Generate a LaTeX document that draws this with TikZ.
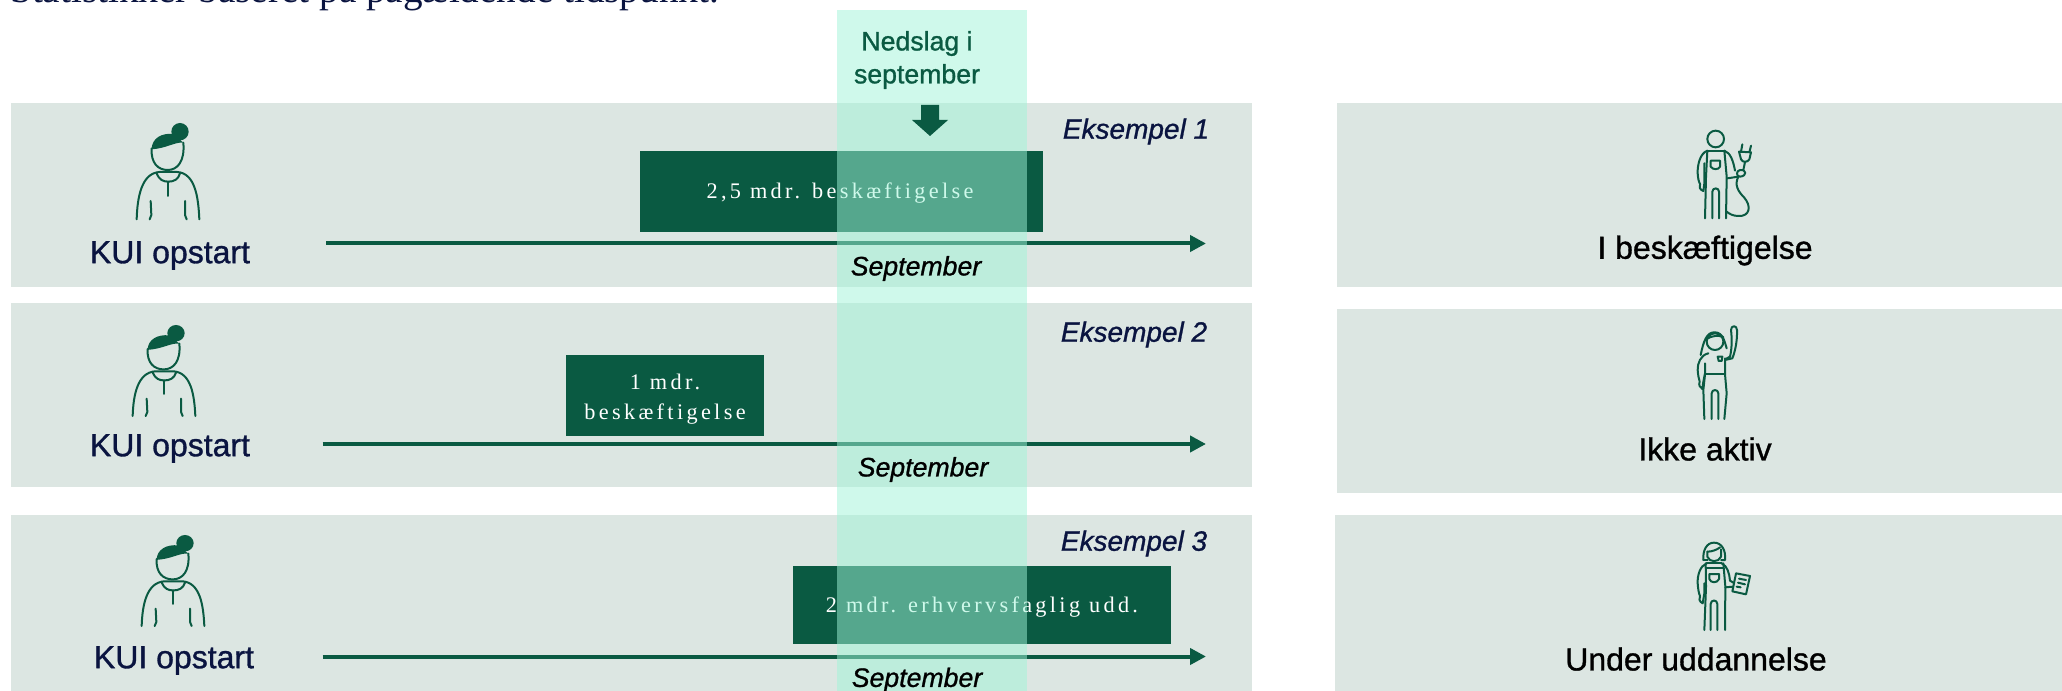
\documentclass[tikz,border=0pt]{standalone}
\usepackage{fontspec}
\setmainfont[FakeBold=1]{Liberation Sans}
\newfontfamily\barfont[LetterSpace=15]{Liberation Serif}
\newfontfamily\topfont{Liberation Serif}
\usetikzlibrary{arrows.meta}
\definecolor{panelcol}{HTML}{DCE6E2}
\definecolor{darkgreen}{HTML}{0A5A42}
\definecolor{bandcol}{RGB}{160,244,216}
\definecolor{navy}{HTML}{0A1440}
\tikzset{
  panel/.style={fill=panelcol,draw=none},
  barbox/.style={fill=darkgreen,inner sep=0pt},
  bartext/.style={text=white,inner sep=0pt,align=center,font=\barfont\fontsize{16.7}{22.5}\selectfont},
  timeline/.style={draw=darkgreen,line width=3pt,-{Triangle[length=12pt,width=12pt]}},
  kui/.style={text=navy,font=\fontsize{24}{28}\selectfont,inner sep=0pt},
  eks/.style={text=navy,font=\itshape\fontsize{21}{25}\selectfont,inner sep=0pt},
  sep/.style={text=black,font=\itshape\fontsize{20}{24}\selectfont,inner sep=0pt},
  outcome/.style={text=black,font=\fontsize{24}{28}\selectfont,inner sep=0pt},
  icon/.style={draw=darkgreen,line width=1.5pt,line cap=round,line join=round,fill=none},
  zoomed/.style={x=0.25pt,y=-0.25pt}
}
\newcommand{\personicon}[3]{%
  \begin{scope}[shift={(#1,#2)},zoomed,yscale=#3]
    \fill[darkgreen] (240,65) circle (26);
    \fill[darkgreen] (155,118) .. controls (155,85) and (185,68) .. (220,72) -- (250,98) .. controls (225,95) and (200,115) .. (155,118) -- cycle;
    \draw[icon] (155,115) .. controls (152,160) and (175,180) .. (203,180) .. controls (232,180) and (255,155) .. (250,98);
    \draw[icon] (110,328) .. controls (112,260) and (125,190) .. (178,186) -- (232,186) .. controls (285,190) and (295,260) .. (298,328);
    \draw[icon] (170,190) .. controls (178,210) and (190,215) .. (205,215) .. controls (222,215) and (235,208) .. (240,190);
    \draw[icon] (205,215) -- (205,258);
    \draw[icon] (152,273) -- (154,315) -- (149,328);
    \draw[icon] (255,273) -- (255,315) -- (260,328);
  \end{scope}}
\begin{document}
\begin{tikzpicture}[x=0.75pt,y=-0.75pt]
\useasboundingbox (0,0) rectangle (2062,691);
\clip (0,0) rectangle (2062,691);
\fill[white] (0,0) rectangle (2062,691);
\node[anchor=base west,inner sep=0pt,text=navy,font=\topfont\fontsize{29.4}{33}\selectfont] (toptext) at (10,3) {Statistikker baseret på pågældende tidspunkt.};
% panels
\fill[panel] (11,103) rectangle (1252,287);
\fill[panel] (11,303) rectangle (1252,487);
\fill[panel] (11,515) rectangle (1252,691);
\fill[panel] (1337,103) rectangle (2062,287);
\fill[panel] (1337,309) rectangle (2062,493);
\fill[panel] (1335,515) rectangle (2062,691);
% bars
\node[barbox,minimum width=302.25pt,minimum height=60.5pt] (bar1) at (841.5,191.5) {};
\node[barbox,minimum width=148.5pt,minimum height=60.5pt] (bar2) at (665,395.5) {};
\node[barbox,minimum width=283.5pt,minimum height=58.5pt] (bar3) at (982,605) {};
\node[bartext] (bar1t) at (840,193.5) {2,5 mdr. beskæftigelse};
\node[bartext] (bar2t) at (665,399) {1 mdr.\\beskæftigelse};
\node[bartext] (bar3t) at (982,607) {2 mdr. erhvervsfaglig udd.};
% timelines
\coordinate (a1s) at (326,243.5); \coordinate (a1e) at (1206,243.5);
\coordinate (a2s) at (322.5,444); \coordinate (a2e) at (1206,444);
\coordinate (a3s) at (322.5,656.5); \coordinate (a3e) at (1206,656.5);
\draw[timeline] (a1s) -- (a1e);
\draw[timeline] (a2s) -- (a2e);
\draw[timeline] (a3s) -- (a3e);
% band
\fill[bandcol,opacity=0.5] (837,10) rectangle (1027,691);
% band header and arrow
\node[text=darkgreen,align=center,inner sep=0pt,font=\fontsize{20}{24.7}\selectfont] (ned) at (917,60) {Nedslag i\\september};
\fill[darkgreen] (921,105) -- (939,105) -- (939,120) -- (948,120) -- (930,136) -- (912,120) -- (921,120) -- cycle;
% labels
\node[sep] (s1) at (916,268.5) {September};
\node[sep] (s2) at (923,469.5) {September};
\node[sep] (s3) at (917,680) {September};
\node[eks] (e1) at (1136,131.5) {Eksempel 1};
\node[eks] (e2) at (1134,334.5) {Eksempel 2};
\node[eks] (e3) at (1134,543.5) {Eksempel 3};
\node[kui] (k1) at (170,255.5) {KUI opstart};
\node[kui] (k2) at (170,448.5) {KUI opstart};
\node[kui] (k3) at (174,660.5) {KUI opstart};
\node[outcome] (o1) at (1705,250.5) {I beskæftigelse};
\node[outcome] (o2) at (1705,449) {Ikke aktiv};
\node[outcome] (o3) at (1696,659) {Under uddannelse};
% persons
\personicon{100}{110}{1}
\personicon{96}{312.7}{0.945}
\personicon{105}{522.7}{0.945}
% worker 1
\begin{scope}[shift={(1670,120)},zoomed]
  \draw[icon] (137,57) circle (25);
  \draw[icon] (112,92) -- (163,92);
  \draw[icon] (112,92) .. controls (90,100) and (82,135) .. (83,160) .. controls (84,175) and (86,185) .. (90,192) .. controls (86,200) and (90,210) .. (100,213) -- (103,190) -- (103,130);
  \draw[icon] (112,92) -- (108,170) -- (105,295);
  \draw[icon] (127,295) -- (127,215) .. controls (127,202) and (147,202) .. (147,215) -- (147,295);
  \draw[icon] (168,295) -- (170,170) -- (163,92);
  \draw[icon] (122,122) -- (150,122) -- (150,140) .. controls (146,150) and (128,150) .. (122,140) -- cycle;
  \draw[icon] (163,92) .. controls (182,98) and (190,125) .. (195,152);
  \draw[icon] (172,175) -- (205,170);
  \draw[icon] (210,150) .. controls (230,148) and (232,168) .. (210,170) .. controls (198,170) and (198,152) .. (210,150);
  \draw[icon] (205,170) .. controls (192,195) and (205,215) .. (222,232) .. controls (245,258) and (240,290) .. (205,288) .. controls (190,288) and (178,282) .. (170,275);
  \draw[icon] (207,95) -- (243,97) -- (238,118) .. controls (232,128) and (218,128) .. (213,118) -- cycle;
  \draw[icon] (217,73) -- (213,95);
  \draw[icon] (243,77) -- (238,97);
  \draw[icon] (225,126) -- (220,150);
\end{scope}
% worker 2
\begin{scope}[shift={(1670,315)},zoomed]
  \draw[icon] (135,80) circle (25);
  \draw[icon] (92,120) .. controls (100,80) and (110,50) .. (135,52) .. controls (160,52) and (165,85) .. (170,100);
  \draw[icon] (110,72) .. controls (125,62) and (145,60) .. (160,66);
  \draw[icon] (165,133) -- (180,125) .. controls (186,100) and (186,70) .. (183,45) .. controls (183,30) and (201,30) .. (201,45) .. controls (202,80) and (195,110) .. (187,130) -- (165,135);
  \draw[icon] (115,115) .. controls (92,120) and (82,145) .. (83,165) .. controls (84,180) and (86,190) .. (89,200) .. controls (85,210) and (90,218) .. (97,222) -- (100,200) -- (105,175) -- (105,145);
  \draw[icon] (105,178) -- (165,178);
  \draw[icon] (105,178) -- (100,225) -- (103,312);
  \draw[icon] (125,312) -- (125,235) .. controls (125,222) and (145,222) .. (145,235) -- (145,312);
  \draw[icon] (163,312) -- (170,235) -- (165,178) -- (165,130);
  \draw[icon] (143,125) -- (157,125) -- (155,138) -- (146,138) -- cycle;
\end{scope}
% worker 3
\begin{scope}[shift={(1670,530)},zoomed]
  \draw[icon] (100,90) .. controls (98,60) and (110,38) .. (132,38) .. controls (155,38) and (168,60) .. (165,90) -- (153,90);
  \draw[icon] (100,90) -- (113,90);
  \draw[icon] (112,65) .. controls (125,65) and (140,60) .. (150,52);
  \draw[icon] (112,65) -- (112,80) .. controls (118,98) and (146,98) .. (153,80) -- (153,58);
  \draw[icon] (110,100) -- (155,100);
  \draw[icon] (110,100) .. controls (90,108) and (82,135) .. (83,160) .. controls (84,175) and (86,190) .. (90,198) .. controls (85,205) and (88,215) .. (98,220) -- (103,190) -- (103,160);
  \draw[icon] (107,115) -- (160,115);
  \draw[icon] (107,100) -- (108,170) -- (103,300);
  \draw[icon] (122,300) -- (122,222) .. controls (122,208) and (142,208) .. (142,222) -- (142,300);
  \draw[icon] (165,300) -- (166,170) -- (160,100);
  \draw[icon] (118,132) -- (147,132) -- (147,147) .. controls (142,160) and (122,160) .. (118,147) -- cycle;
  \draw[icon] (155,100) .. controls (172,108) and (178,130) .. (180,152) -- (190,158);
  \draw[icon] (166,172) -- (188,170);
  \draw[icon] (198,130) -- (240,138) -- (228,193) -- (187,184) -- cycle;
  \draw[icon] (207,146) -- (228,150);
  \draw[icon] (204,158) -- (225,163);
  \draw[icon] (200,170) -- (212,172);
\end{scope}
\end{tikzpicture}
\end{document}
